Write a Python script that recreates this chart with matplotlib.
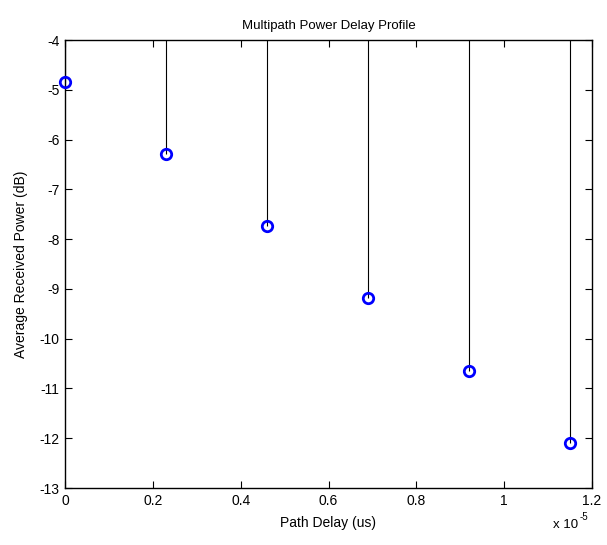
import numpy as np
import matplotlib
matplotlib.use('Agg')
import matplotlib.pyplot as plt

# path delays (s) and average received power (dB)
delay = [0.0, 0.23e-5, 0.46e-5, 0.69e-5, 0.92e-5, 1.15e-5]
power = [-4.84, -6.29, -7.74, -9.19, -10.64, -12.09]
xtick_vals = [0, 0.2, 0.4, 0.6, 0.8, 1, 1.2]
xtick_labels = ['0', '0.2', '0.4', '0.6', '0.8', '1', '1.2']

def main():
    plt.rcParams['font.family'] = ['Liberation Sans', 'DejaVu Sans']
    plt.rcParams['font.size'] = 9
    plt.rcParams['axes.unicode_minus'] = False

    fig = plt.figure(figsize=(6.07, 5.45), dpi=100)
    ax = fig.add_axes([65/607, 1 - 488/545, (592-65)/607, (488-40)/545])

    # stems from baseline 0, clipped at the top of the axes
    ax.vlines(delay, power, 0, colors='black', linewidth=0.8, zorder=2)
    ax.plot(delay, power, 'o', markerfacecolor='none', markeredgecolor='#0000ff',
            markersize=7.5, markeredgewidth=2, clip_on=False, zorder=3)

    ax.set_xlim(0, 1.2e-5)
    ax.set_ylim(-13, -4)
    ax.set_xticks([v * 1e-5 for v in xtick_vals])
    ax.set_xticklabels(xtick_labels)
    ax.set_yticks(np.arange(-13, -3, 1))
    ax.set_yticklabels([str(v) for v in range(-13, -3)])
    ax.tick_params(direction='in', top=True, right=True, length=5, width=0.8,
                   labelsize=10, pad=4)
    for s in ax.spines.values():
        s.set_linewidth(1.0)

    ax.set_title('Multipath Power Delay Profile', fontsize=9.5, pad=8)
    ax.set_xlabel('Path Delay (us)', fontsize=10, labelpad=6)
    ax.set_ylabel('Average Received Power (dB)', fontsize=10, labelpad=8)
    fig.text(553/607, 1 - 525/545, 'x 10', fontsize=9.5, va='center')
    fig.text(580/607, 1 - 517/545, '-5', fontsize=7, va='center')

    fig.savefig('out.png', dpi=100)

if __name__ == '__main__':
    main()
